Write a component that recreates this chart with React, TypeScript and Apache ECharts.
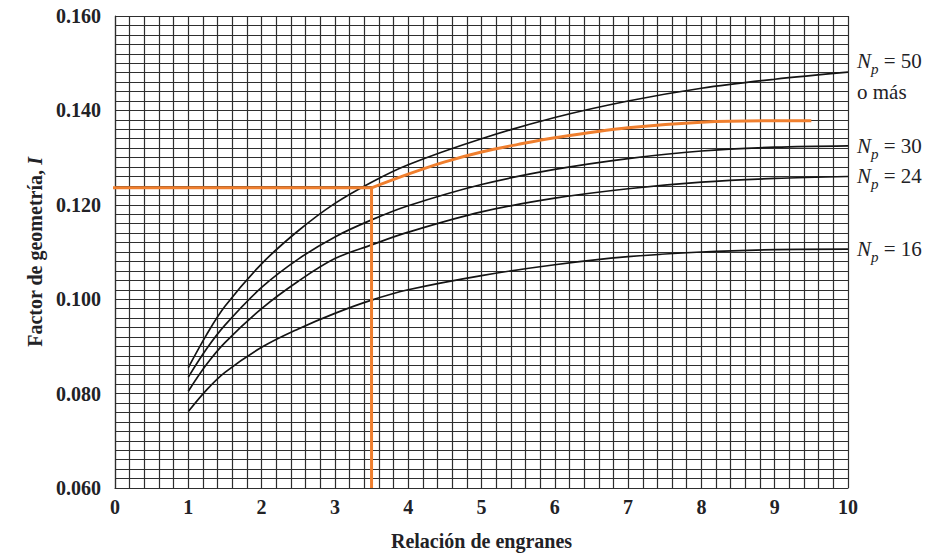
import React, { useEffect, useRef } from "react";
import * as echarts from "echarts";

// Gear ratio (x) samples and geometry factor curves
const ratio = [1, 1.25, 1.5, 2, 2.5, 3, 3.5, 4, 5, 6, 7, 8, 9, 10];
const np50 = [0.0855, 0.0925, 0.0985, 0.1075, 0.1145, 0.1203, 0.1248, 0.1285, 0.134, 0.1385, 0.142, 0.1447, 0.1466, 0.1481];
const np30 = [0.0835, 0.0895, 0.0945, 0.1025, 0.1085, 0.1132, 0.1168, 0.1198, 0.1243, 0.1275, 0.1298, 0.1314, 0.1322, 0.1325];
const np24 = [0.0805, 0.0862, 0.0908, 0.098, 0.1038, 0.1086, 0.1115, 0.1142, 0.1185, 0.1214, 0.1234, 0.1248, 0.1256, 0.126];
const np16 = [0.0762, 0.0808, 0.0845, 0.0898, 0.0937, 0.097, 0.0998, 0.102, 0.105, 0.1073, 0.109, 0.11, 0.1105, 0.1106];

// Orange example construction
const guideX = [-0.48, 3.5, 3.5];
const guideY = [0.1236, 0.1236, 0.06];
const exampleX = [3.5, 4, 4.5, 5, 5.5, 6, 7, 8, 9, 9.5];
const exampleY = [0.1236, 0.1265, 0.1291, 0.1312, 0.1328, 0.1342, 0.1363, 0.1375, 0.1378, 0.1378];

// Curve labels
const curveLabels = ["= 50", "= 30", "= 24", "= 16"];
const extraLabel = "o más";

const xTitle = "Relación de engranes";
const yTitle = "Factor de geometría, ";
const yTitleVar = "I";

const SERIF = "'Liberation Serif', 'Times New Roman', serif";
const INK = "#222226";
const GRID = "#2e2e2e";
const ORANGE = "#F07F2E";

function pairs(xs: number[], ys: number[]) {
  return xs.map((x, i) => [x, ys[i]]);
}

const richLabel = {
  n: { fontFamily: SERIF, fontSize: 21, fontStyle: "italic", color: INK, lineHeight: 31 },
  p: { fontFamily: SERIF, fontSize: 15, fontStyle: "italic", color: INK, lineHeight: 22, verticalAlign: "bottom" },
  t: { fontFamily: SERIF, fontSize: 21, color: INK, lineHeight: 31 },
};

function curveSeries(name: string, ys: number[], label: string, extra?: string) {
  return {
    name,
    type: "line",
    data: pairs(ratio, ys),
    smooth: 0.35,
    symbol: "none",
    showSymbol: false,
    lineStyle: { color: "#141414", width: 1.7 },
    endLabel: {
      show: true,
      distance: 9,
      offset: extra ? [0, 4] : [0, 0],
      formatter: extra ? `{n|N}{p|p}{t| ${label}}\n{t|${extra}}` : `{n|N}{p|p}{t| ${label}}`,
      rich: richLabel,
      align: "left",
    },
    z: 3,
  };
}

export default function App() {
  const ref = useRef<HTMLDivElement>(null);
  useEffect(() => {
    if (!ref.current) return;
    const chart = echarts.init(ref.current, undefined, { renderer: "svg" });
    const gridLine = { show: true, lineStyle: { color: GRID, width: 1.2 } };
    chart.setOption({
      animation: false,
      backgroundColor: "#ffffff",
      grid: { left: 115, right: 88, top: 16, bottom: 71, outerBoundsMode: "none", containLabel: false },
      xAxis: {
        type: "value",
        min: 0,
        max: 10,
        interval: 1,
        axisLine: { show: true, lineStyle: { color: GRID, width: 1.2 } },
        axisTick: { show: false },
        splitLine: gridLine,
        minorTick: { show: false, splitNumber: 5 },
        minorSplitLine: gridLine,
        axisLabel: {
          margin: 9,
          fontFamily: SERIF,
          fontSize: 20,
          fontWeight: "bold",
          color: INK,
          formatter: (v: number) => String(Math.round(v)),
        },
        name: xTitle,
        nameLocation: "middle",
        nameGap: 43,
        nameTextStyle: { fontFamily: SERIF, fontSize: 20, fontWeight: "bold", color: INK },
      },
      yAxis: {
        type: "value",
        min: 0.06,
        max: 0.16,
        interval: 0.02,
        axisLine: { show: true, lineStyle: { color: GRID, width: 1.2 } },
        axisTick: { show: false },
        splitLine: gridLine,
        minorTick: { show: false, splitNumber: 10 },
        minorSplitLine: gridLine,
        axisLabel: {
          margin: 14,
          fontFamily: SERIF,
          fontSize: 20,
          fontWeight: "bold",
          color: INK,
          formatter: (v: number) => v.toFixed(3),
        },
        name: `{a|${yTitle}}{b|${yTitleVar}}`,
        nameLocation: "middle",
        nameRotate: 90,
        nameGap: 68,
        nameTextStyle: {
          rich: {
            a: { fontFamily: SERIF, fontSize: 20, fontWeight: "bold", color: INK },
            b: { fontFamily: SERIF, fontSize: 20, fontWeight: "bold", color: INK, fontStyle: "italic" },
          },
        },
      },
      series: [
        curveSeries("Np50", np50, curveLabels[0], extraLabel),
        curveSeries("Np30", np30, curveLabels[1]),
        curveSeries("Np24", np24, curveLabels[2]),
        curveSeries("Np16", np16, curveLabels[3]),
        {
          name: "guide",
          type: "line",
          data: pairs(guideX, guideY),
          symbol: "none",
          showSymbol: false,
          clip: false,
          lineStyle: { color: ORANGE, width: 3 },
          z: 4,
        },
        {
          name: "example",
          type: "line",
          data: pairs(exampleX, exampleY),
          smooth: 0.35,
          symbol: "none",
          showSymbol: false,
          lineStyle: { color: ORANGE, width: 3 },
          z: 4,
        },
      ],
    });
    return () => chart.dispose();
  }, []);
  return (
    <div
      ref={ref}
      style={{ position: "fixed", left: 0, top: 0, width: 936, height: 559, background: "#fff" }}
    />
  );
}
